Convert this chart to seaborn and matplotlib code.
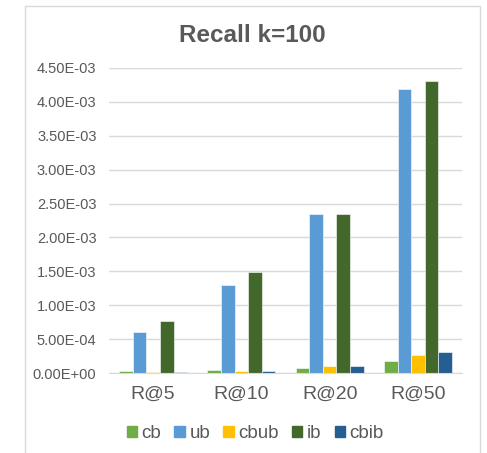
import matplotlib.pyplot as plt
import matplotlib.patches as mpatches
from matplotlib.ticker import FuncFormatter
import seaborn as sns
import pandas as pd

categories = ["R@5", "R@10", "R@20", "R@50"]
series_names = ["cb", "ub", "cbub", "ib", "cbib"]
cb = [3.0e-5, 5.0e-5, 7.4e-5, 1.8e-4]
ub = [6.0e-4, 1.30e-3, 2.35e-3, 4.19e-3]
cbub = [1.5e-5, 3.5e-5, 1.1e-4, 2.6e-4]
ib = [7.7e-4, 1.49e-3, 2.34e-3, 4.31e-3]
cbib = [1.5e-5, 3.0e-5, 1.0e-4, 3.1e-4]

colors = ["#70AD47", "#5B9BD5", "#FFC000", "#43682B", "#255E91"]

rows = []
for name, vals in zip(series_names, [cb, ub, cbub, ib, cbib]):
    for cat, v in zip(categories, vals):
        rows.append({"cat": cat, "series": name, "value": v})
df = pd.DataFrame(rows)

sns.set_style("white")
plt.rcParams['font.family'] = ['Liberation Sans', 'DejaVu Sans']

fig = plt.figure(figsize=(4.87, 4.53), dpi=100)
ax = fig.add_axes([0.2238, 0.1766, 0.9487 - 0.2238, 0.8499 - 0.1766])

sns.barplot(data=df, x="cat", y="value", hue="series", order=categories,
            hue_order=series_names, palette=colors, width=0.77, saturation=1,
            edgecolor="white", linewidth=0.4, ax=ax)

ax.set_ylim(0, 4.5e-3)
ax.set_yticks([i * 5e-4 for i in range(10)])
ax.yaxis.set_major_formatter(FuncFormatter(lambda v, p: f"{v:.2E}"))
ax.grid(axis="y", color="#D9D9D9", linewidth=1)
ax.set_axisbelow(True)
for s in ["top", "right", "left"]:
    ax.spines[s].set_visible(False)
ax.spines["bottom"].set_color("#D9D9D9")
ax.tick_params(axis="y", length=0, pad=9, labelsize=10.5, labelcolor="#595959")
ax.tick_params(axis="x", length=0, pad=9, labelsize=14, labelcolor="#595959")
ax.set_xlabel("")
ax.set_ylabel("")

fig.text(0.518, 0.922, "Recall k=100", ha="center", va="center",
         fontsize=17.5, fontweight="bold", color="#595959")

handles = [mpatches.Patch(color=c, label=n) for c, n in zip(colors, series_names)]
ax.legend(handles=handles, ncol=5, loc="center", bbox_to_anchor=(0.524, 0.043),
          bbox_transform=fig.transFigure, frameon=False, fontsize=13.5,
          handlelength=0.55, handleheight=0.55, handletextpad=0.25,
          columnspacing=0.7, labelcolor="#595959")

border = mpatches.Rectangle((25 / 487, -0.01), (480 - 25) / 487, 1 - 6 / 453 + 0.01,
                            transform=fig.transFigure, fill=False,
                            edgecolor="#D9D9D9", linewidth=1)
fig.patches.append(border)

fig.savefig("out.png", dpi=100)
